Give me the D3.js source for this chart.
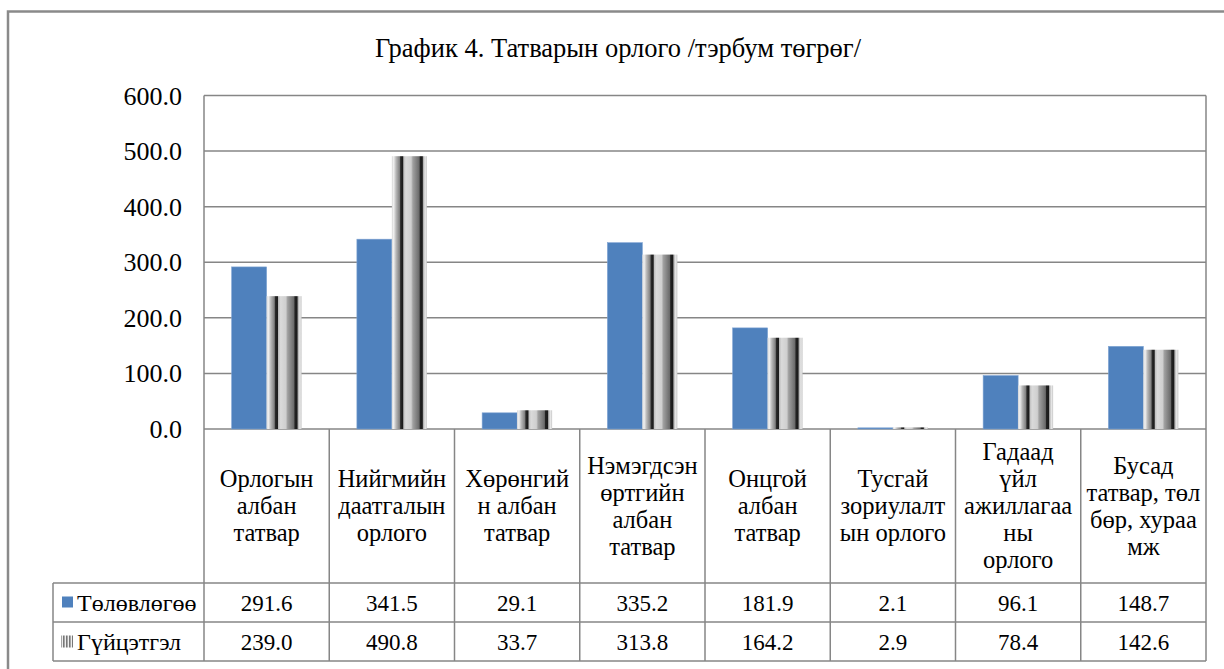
<!DOCTYPE html>
<html>
<head>
<meta charset="utf-8">
<script src="https://cdn.jsdelivr.net/npm/d3@7"></script>
<style>
  body { margin: 0; background: #fff; }
</style>
</head>
<body>
<div id="chart"></div>
<script>
// chart data
var categories = [
  ["Орлогын", "албан", "татвар"],
  ["Нийгмийн", "даатгалын", "орлого"],
  ["Хөрөнгий", "н албан", "татвар"],
  ["Нэмэгдсэн", "өртгийн", "албан", "татвар"],
  ["Онцгой", "албан", "татвар"],
  ["Тусгай", "зориулалт", "ын орлого"],
  ["Гадаад", "үйл", "ажиллагаа", "ны", "орлого"],
  ["Бусад", "татвар, төл", "бөр, хураа", "мж"]
];
var seriesNames = ["Төлөвлөгөө", "Гүйцэтгэл"];
var planValues = [291.6, 341.5, 29.1, 335.2, 181.9, 2.1, 96.1, 148.7];
var actualValues = [239.0, 490.8, 33.7, 313.8, 164.2, 2.9, 78.4, 142.6];
var yTicks = [0, 100, 200, 300, 400, 500, 600];
var title = "График 4. Татварын орлого /тэрбум төгрөг/";

const width = 1224, height = 669;
const plot = { left: 204, right: 1206, top: 95.5, bottom: 429 };
const table = { left: 53, headBottom: 583, row1Bottom: 622, row2Bottom: 661 };
const lineColor = "#868686";
const blue = "#4f81bd";
const serif = "'Liberation Serif', 'Times New Roman', 'DejaVu Serif', serif";

const svg = d3.select("#chart").append("svg")
  .attr("width", width)
  .attr("height", height)
  .attr("font-family", serif);

// striped fill used by the second series
var defs = svg.append("defs");
var grad = defs.append("linearGradient")
  .attr("id", "stripes")
  .attr("x1", "0").attr("x2", "1").attr("y1", "0").attr("y2", "0");
[[0, "#d8d8d8"], [0.05, "#f0f0f0"], [0.12, "#b8b8b8"], [0.22, "#808080"], [0.25, "#2a2a2a"],
 [0.31, "#1a1a1a"], [0.34, "#c0c0c0"], [0.4, "#dadada"], [0.55, "#cfcfcf"], [0.6, "#a0a0a0"],
 [0.78, "#6a6a6a"], [0.81, "#222"], [0.87, "#1a1a1a"], [0.9, "#b0b0b0"], [0.95, "#e8e8e8"], [1, "#c8c8c8"]]
  .forEach(function (s) {
    grad.append("stop").attr("offset", s[0]).attr("stop-color", s[1]);
  });
// small key uses thin vertical lines
var keyPat = defs.append("pattern")
  .attr("id", "keyStripes")
  .attr("patternUnits", "userSpaceOnUse")
  .attr("width", 3).attr("height", 12);
keyPat.append("rect").attr("width", 3).attr("height", 12).attr("fill", "#eee");
keyPat.append("rect").attr("width", 1.6).attr("height", 12).attr("fill", "#777");

// outer frame (runs past the right and bottom edge)
svg.append("rect")
  .attr("x", 8).attr("y", 11.5)
  .attr("width", 1240).attr("height", 700)
  .attr("fill", "none")
  .attr("stroke", "#8a8a8a")
  .attr("stroke-width", 2.5);

// title
svg.append("text")
  .attr("x", 618).attr("y", 57)
  .attr("text-anchor", "middle")
  .attr("font-family", serif)
  .attr("font-size", 26.5)
  .text(title);

// scales
var x = d3.scaleBand()
  .domain(d3.range(categories.length))
  .range([plot.left, plot.right])
  .padding(0);
var xs = d3.scaleBand()
  .domain(seriesNames)
  .range([0, x.bandwidth()])
  .paddingInner(0)
  .paddingOuter(0.79);
var y = d3.scaleLinear()
  .domain([0, 600])
  .range([plot.bottom, plot.top]);

// gridlines
svg.append("g")
  .selectAll("line")
  .data(yTicks)
  .enter().append("line")
  .attr("x1", plot.left).attr("x2", plot.right)
  .attr("y1", d => y(d)).attr("y2", d => y(d))
  .attr("stroke", lineColor)
  .attr("stroke-width", 1.5);

// y axis labels
svg.append("g")
  .selectAll("text")
  .data(yTicks)
  .enter().append("text")
  .attr("x", 182)
  .attr("y", d => y(d) + 9)
  .attr("text-anchor", "end")
  .attr("font-family", serif)
  .attr("font-size", 26)
  .text(d => d3.format(".1f")(d));

// bars
var series = [planValues, actualValues];
series.forEach(function (vals, si) {
  svg.append("g")
    .selectAll("rect")
    .data(vals)
    .enter().append("rect")
    .attr("x", (d, i) => x(i) + xs(seriesNames[si]))
    .attr("y", d => y(d))
    .attr("width", xs.bandwidth())
    .attr("height", d => y(0) - y(d))
    .attr("fill", si == 0 ? blue : "url(#stripes)")
    .attr("stroke", si == 0 ? "#7ea3d2" : "none")
    .attr("stroke-width", 0.6);
});

// plot border lines
svg.append("line")
  .attr("x1", plot.left).attr("x2", plot.left)
  .attr("y1", plot.top).attr("y2", table.row2Bottom)
  .attr("stroke", lineColor).attr("stroke-width", 1.5);
svg.append("line")
  .attr("x1", plot.right).attr("x2", plot.right)
  .attr("y1", plot.top).attr("y2", table.row2Bottom)
  .attr("stroke", lineColor).attr("stroke-width", 1.5);

// data table grid
var tableG = svg.append("g");
tableG.selectAll(".vline")
  .data(d3.range(1, categories.length))
  .enter().append("line")
  .attr("x1", d => x(d)).attr("x2", d => x(d))
  .attr("y1", plot.bottom).attr("y2", table.row2Bottom)
  .attr("stroke", lineColor).attr("stroke-width", 1.5);
[table.headBottom, table.row1Bottom, table.row2Bottom].forEach(function (yy) {
  tableG.append("line")
    .attr("x1", table.left).attr("x2", plot.right)
    .attr("y1", yy).attr("y2", yy)
    .attr("stroke", lineColor).attr("stroke-width", 1.5);
});
tableG.append("line")
  .attr("x1", table.left).attr("x2", table.left)
  .attr("y1", table.headBottom).attr("y2", table.row2Bottom)
  .attr("stroke", lineColor).attr("stroke-width", 1.5);

// category labels
var lineH = 27;
var mid = (plot.bottom + table.headBottom) / 2;
categories.forEach(function (lines, i) {
  var t = svg.append("text")
    .attr("text-anchor", "middle")
    .attr("font-family", serif)
    .attr("font-size", 24.5);
  lines.forEach(function (ln, j) {
    t.append("tspan")
      .attr("x", x(i) + x.bandwidth() / 2)
      .attr("y", mid + (j - (lines.length - 1) / 2) * lineH + 8)
      .text(ln);
  });
});

// table values
var rowMid = [(table.headBottom + table.row1Bottom) / 2, (table.row1Bottom + table.row2Bottom) / 2];
series.forEach(function (vals, si) {
  svg.append("g")
    .selectAll("text")
    .data(vals)
    .enter().append("text")
    .attr("x", (d, i) => x(i) + x.bandwidth() / 2)
    .attr("y", rowMid[si] + 8)
    .attr("text-anchor", "middle")
    .attr("font-family", serif)
    .attr("font-size", 23)
    .text(d => d3.format(".1f")(d));
});

// legend keys in the table
svg.append("rect")
  .attr("x", 62).attr("y", rowMid[0] - 6)
  .attr("width", 11).attr("height", 11)
  .attr("fill", blue);
svg.append("rect")
  .attr("x", 61).attr("y", rowMid[1] - 6)
  .attr("width", 12).attr("height", 12)
  .attr("fill", "url(#keyStripes)");
seriesNames.forEach(function (name, si) {
  svg.append("text")
    .attr("x", 77)
    .attr("y", rowMid[si] + 8)
    .attr("font-family", serif)
    .attr("font-size", 24)
    .text(name);
});
</script>
</body>
</html>
